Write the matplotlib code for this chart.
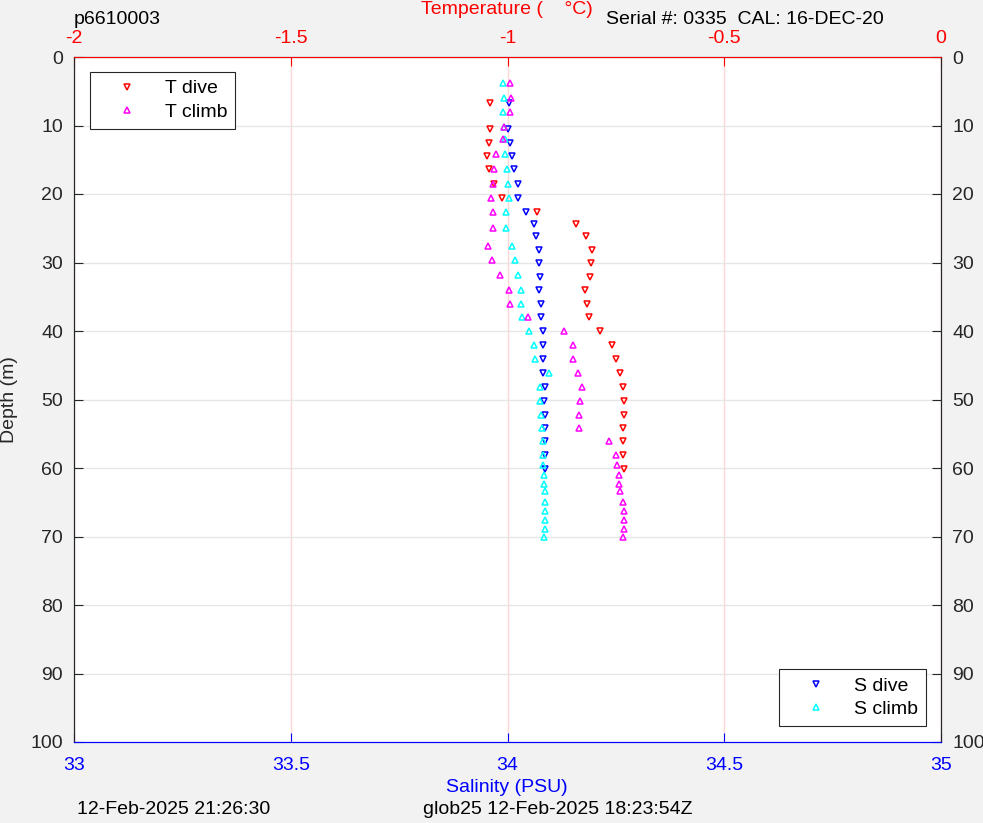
import matplotlib.pyplot as plt
from matplotlib.lines import Line2D

# dive profile (depth m, temperature degC, salinity PSU)
dive_depth = [6.7, 10.5, 12.5, 14.5, 16.4, 18.5, 20.6, 22.7, 24.4, 26.2, 28.2, 30.1, 32.1, 34.0,
              36.1, 38.0, 40.0, 42.1, 44.1, 46.2, 48.2, 50.2, 52.2, 54.2, 56.1, 58.1, 60.2]
dive_temp = [-1.040, -1.040, -1.043, -1.047, -1.043, -1.032, -1.012, -0.931, -0.842, -0.820,
             -0.806, -0.807, -0.810, -0.821, -0.817, -0.811, -0.787, -0.760, -0.750, -0.741,
             -0.733, -0.731, -0.731, -0.733, -0.733, -0.734, -0.731]
dive_sal = [34.004, 34.002, 34.006, 34.010, 34.015, 34.024, 34.024, 34.042, 34.061, 34.066,
            34.072, 34.073, 34.075, 34.073, 34.077, 34.077, 34.081, 34.081, 34.083, 34.083,
            34.086, 34.085, 34.086, 34.087, 34.087, 34.086, 34.086]

# climb profile
climb_depth = [3.8, 6.0, 8.1, 10.2, 12.0, 14.2, 16.4, 18.5, 20.6, 22.7, 25.0, 27.6, 29.6, 31.8,
               34.0, 36.1, 38.0, 40.0, 42.1, 44.1, 46.2, 48.2, 50.2, 52.2, 54.2, 56.1, 58.1,
               59.6, 61.0, 62.3, 63.3, 65.0, 66.3, 67.6, 68.9, 70.1]
climb_temp = [-0.994, -0.992, -0.994, -1.008, -1.011, -1.026, -1.032, -1.033, -1.039, -1.033,
              -1.033, -1.046, -1.036, -1.017, -0.997, -0.994, -0.953, -0.869, -0.848, -0.849,
              -0.838, -0.827, -0.833, -0.836, -0.834, -0.767, -0.750, -0.747, -0.742, -0.743,
              -0.741, -0.733, -0.731, -0.731, -0.731, -0.733]
climb_sal = [33.990, 33.993, 33.990, 33.993, 33.994, 33.995, 33.999, 34.001, 34.003, 33.997,
             33.997, 34.011, 34.017, 34.024, 34.031, 34.032, 34.033, 34.050, 34.061, 34.063,
             34.096, 34.076, 34.074, 34.077, 34.079, 34.081, 34.083, 34.083, 34.084, 34.085,
             34.087, 34.086, 34.086, 34.086, 34.086, 34.085]

plt.rcParams['font.family'] = ['Liberation Sans', 'DejaVu Sans']
FS = 14

fig = plt.figure(figsize=(9.83, 8.23), dpi=100, facecolor='#f2f2f2')
W, H = 983, 823
ax = fig.add_axes([74 / W, 1 - 742 / H, (941 - 74) / W, (742 - 57) / H])
ax.set_facecolor('white')

mk = dict(linestyle='none', markersize=4.5, markerfacecolor='none', markeredgewidth=1.1)
ax.plot(dive_sal, dive_depth, marker='v', color='blue', **mk)
ax.plot(climb_sal, climb_depth, marker='^', color='cyan', **mk)
ax.set_xlim(33, 35)
ax.set_ylim(100, 0)
ax.set_xticks([33, 33.5, 34, 34.5, 35])
ax.set_xticklabels(['33', '33.5', '34', '34.5', '35'])
ax.set_yticks(range(0, 101, 10))
ax.xaxis.grid(True, color='#ffd6d6', linewidth=1)
ax.yaxis.grid(True, color='#e6e6e6', linewidth=1)
ax.set_axisbelow(True)
ax.tick_params(axis='x', colors='blue', labelsize=FS, direction='in', length=6.3, pad=11)
ax.tick_params(axis='y', colors='#262626', labelsize=FS, direction='in', length=6.3, pad=8,
               right=True, labelright=True)
ax.set_ylabel('Depth (m)', fontsize=FS, color='#262626', va='center')
ax.yaxis.set_label_coords(-(74 - 9) / 867, 0.5)
ax.spines['bottom'].set_color('blue')
ax.spines['left'].set_color('#262626')
ax.spines['right'].set_color('#262626')

ax2 = ax.twiny()
ax2.plot(dive_temp, dive_depth, marker='v', color='red', **mk)
ax2.plot(climb_temp, climb_depth, marker='^', color='magenta', **mk)
ax2.set_xlim(-2, 0)
ax2.set_ylim(100, 0)
ax2.set_xticks([-2, -1.5, -1, -0.5, 0])
ax2.set_xticklabels(['-2', '-1.5', '-1', '-0.5', '0'])
ax2.tick_params(axis='x', colors='red', labelsize=FS, direction='in', length=6.3, pad=7.5)
ax2.spines['top'].set_color('red')
ax2.spines['bottom'].set_color('blue')
ax2.spines['left'].set_color('#262626')
ax2.spines['right'].set_color('#262626')

leg_kw = dict(fontsize=FS, fancybox=False, edgecolor='#262626', framealpha=1,
              handlelength=3.0, handletextpad=0.45, borderpad=0.4, labelspacing=0.3,
              borderaxespad=0)
t_handles = [Line2D([], [], marker='v', color='red', **mk),
             Line2D([], [], marker='^', color='magenta', **mk)]
leg1 = ax2.legend(t_handles, ['T dive', 'T climb'], loc='upper left',
                  bbox_to_anchor=(16 / 867, 1 - 15 / 685), **leg_kw)
leg1.get_frame().set_linewidth(0.8)

s_handles = [Line2D([], [], marker='v', color='blue', **mk),
             Line2D([], [], marker='^', color='cyan', **mk)]
leg2 = ax2.legend(s_handles, ['S dive', 'S climb'], loc='lower right',
                  bbox_to_anchor=(1 - 15 / 867, 16 / 685), **leg_kw)
leg2.get_frame().set_linewidth(0.8)
ax2.add_artist(leg1)

fig.text(507 / W, 1 - 10 / H, 'Temperature (    °C)', fontsize=FS, color='red',
         va='center', ha='center')
fig.text(507 / W, 1 - 788 / H, 'Salinity (PSU)', fontsize=FS, color='blue',
         va='center', ha='center')
fig.text(74 / W, 1 - 20 / H, 'p6610003', fontsize=FS, va='center', ha='left')
fig.text(884 / W, 1 - 20 / H, 'Serial #: 0335  CAL: 16-DEC-20', fontsize=FS,
         va='center', ha='right')
fig.text(77 / W, 1 - 810 / H, '12-Feb-2025 21:26:30', fontsize=FS, va='center', ha='left')
fig.text(423 / W, 1 - 810 / H, 'glob25 12-Feb-2025 18:23:54Z', fontsize=FS,
         va='center', ha='left')

fig.savefig('out.png', dpi=100, facecolor=fig.get_facecolor())
